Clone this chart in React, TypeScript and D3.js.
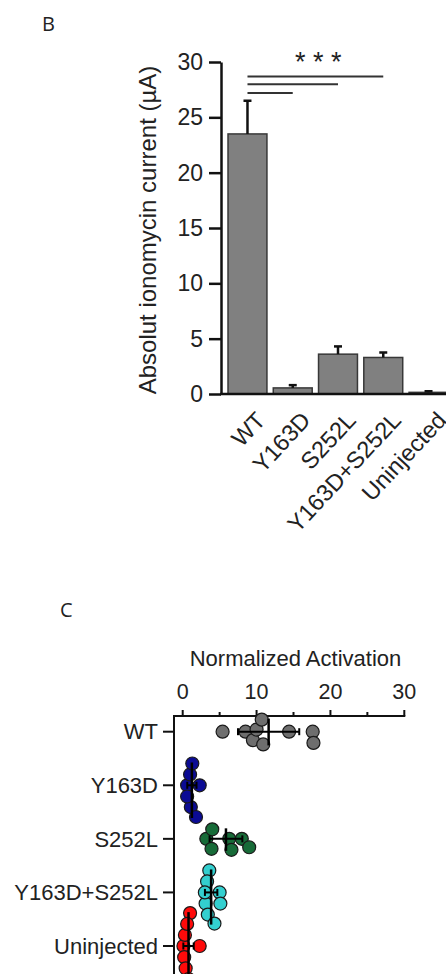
import React, { useEffect, useRef } from 'react';
import * as d3 from 'd3';

const groups = ['WT', 'Y163D', 'S252L', 'Y163D+S252L', 'Uninjected'];

// panel B: absolut ionomycin current (µA), bar = mean, whisker = error
const currentMean = [23.5, 0.55, 3.6, 3.3, 0.15];
const currentErr = [3.0, 0.25, 0.7, 0.45, 0.1];
const currentTicks = [0, 5, 10, 15, 20, 25, 30];
// WT compared against these groups, bracket height in µA
const sigTargets = ['Y163D', 'S252L', 'Y163D+S252L'];
const sigLevels = [27.2, 28.0, 28.7];

// panel C: normalized activation, one value per oocyte
const wtPts = [5.4, 8.5, 9.5, 10.0, 10.7, 10.9, 14.4, 17.6, 17.7];
const y163dPts = [0.6, 1.0, 1.3, 1.1, 2.3, 0.6, 1.8];
const s252lPts = [3.2, 3.9, 4.0, 6.3, 6.6, 8.0, 9.0];
const doublePts = [3.6, 3.3, 3.1, 3.0, 3.4, 4.3, 5.0, 5.1];
const uninjPts = [1.0, 0.1, 0.2, 0.3, 2.3, 0.4, 0.8, 1.4, 0.6];
const activationTicks = [0, 10, 20, 30];
const activationMinor = [5, 15, 25];

const dotColors = ['#6e6e6e', '#0b0b94', '#176b38', '#33cfcf', '#ff0a0a'];
const font = "'Liberation Sans', Arial, sans-serif";

// greedy beeswarm: each point goes to the free offset closest to the centre line
function swarm(xs: number[], r: number) {
  const placed: { x: number; y: number }[] = [];
  const out: { x: number; y: number }[] = new Array(xs.length);
  const order = xs.map((_, i) => i).sort((a, b) => xs[a] - xs[b]);
  for (const i of order) {
    const x = xs[i];
    const cands = [0];
    placed.forEach(p => {
      const dx = Math.abs(p.x - x);
      if (dx < 2 * r) {
        const h = Math.sqrt(4 * r * r - dx * dx);
        cands.push(p.y + h, p.y - h);
      }
    });
    cands.sort((a, b) => Math.abs(a) - Math.abs(b));
    const y = cands.find(c => placed.every(p => (p.x - x) ** 2 + (p.y - c) ** 2 >= 4 * r * r - 0.01)) ?? 0;
    placed.push({ x, y });
    out[i] = { x, y };
  }
  return out;
}

const App = () => {
  const svgRef = useRef<SVGSVGElement>(null);

  useEffect(() => {
    const svg = d3.select(svgRef.current);
    svg.selectAll('*').remove();

    // ---------- panel B ----------
    svg.append('text')
      .attr('x', 42).attr('y', 31)
      .style('font-family', "'Open Sans', sans-serif")
      .style('font-size', '20px')
      .attr('fill', '#222')
      .text('B');

    const yB = d3.scaleLinear().domain([0, 30]).range([394, 62]);
    const xB = d3.scaleBand().domain(groups).range([221, 455]).paddingInner(0.14).paddingOuter(0.155);
    const bw = xB.bandwidth();
    const cx = (g: string) => (xB(g) as number) + bw / 2;

    const gB = svg.append('g');

    gB.selectAll('.bar')
      .data(groups)
      .enter().append('rect')
      .attr('class', 'bar')
      .attr('x', d => xB(d) as number)
      .attr('y', (d, i) => yB(currentMean[i]))
      .attr('width', bw)
      .attr('height', (d, i) => yB(0) - yB(currentMean[i]))
      .attr('fill', '#808080')
      .attr('stroke', '#383838')
      .attr('stroke-width', 1.5);

    groups.forEach((g, i) => {
      const top = yB(currentMean[i] + currentErr[i]);
      gB.append('line')
        .attr('x1', cx(g)).attr('x2', cx(g))
        .attr('y1', yB(currentMean[i])).attr('y2', top)
        .attr('stroke', '#111').attr('stroke-width', 2.5);
      gB.append('line')
        .attr('x1', cx(g) - 4).attr('x2', cx(g) + 4)
        .attr('y1', top).attr('y2', top)
        .attr('stroke', '#111').attr('stroke-width', 2.5);
    });

    const axB = gB.append('g')
      .attr('transform', 'translate(221,0)')
      .call(d3.axisLeft(yB).tickValues(currentTicks).tickSize(12).tickSizeOuter(0).tickPadding(6));
    axB.select('.domain').attr('stroke', '#111').attr('stroke-width', 2.5);
    axB.selectAll('.tick line').attr('stroke', '#111').attr('stroke-width', 2.5);
    axB.selectAll('.tick text')
      .style('font-family', font).style('font-size', '23px').attr('fill', '#222');

    gB.append('line')
      .attr('x1', 220).attr('x2', 450)
      .attr('y1', yB(0)).attr('y2', yB(0))
      .attr('stroke', '#111').attr('stroke-width', 2.5);

    gB.append('text')
      .attr('transform', `translate(156,${(yB(0) + yB(30)) / 2 + 2}) rotate(-90)`)
      .attr('text-anchor', 'middle')
      .style('font-family', font).style('font-size', '24px').attr('fill', '#222')
      .text('Absolut ionomycin current (µA)');

    groups.forEach(g => {
      gB.append('text')
        .attr('transform', `translate(${cx(g) + 7},410) rotate(-47)`)
        .attr('text-anchor', 'end')
        .attr('dy', '0.71em')
        .style('font-family', font).style('font-size', '23.5px').attr('fill', '#222')
        .text(g);
    });

    sigTargets.forEach((g, i) => {
      gB.append('line')
        .attr('x1', cx('WT')).attr('x2', cx(g))
        .attr('y1', yB(sigLevels[i])).attr('y2', yB(sigLevels[i]))
        .attr('stroke', '#333').attr('stroke-width', 2);
    });
    gB.append('text')
      .attr('x', (cx('WT') + cx(sigTargets[sigTargets.length - 1])) / 2 + 3)
      .attr('y', 71)
      .attr('text-anchor', 'middle')
      .style('font-family', font).style('font-size', '27px').attr('fill', '#222')
      .text('* * *');

    // ---------- panel C ----------
    svg.append('text')
      .attr('x', 60).attr('y', 617)
      .style('font-family', "'Open Sans', sans-serif")
      .style('font-size', '20px')
      .attr('fill', '#222')
      .text('C');

    const xC = d3.scaleLinear().domain([0, 30]).range([182.7, 404.3]);
    const yC = d3.scalePoint().domain(groups).range([731.7, 946]);
    const axisY = 716;
    const axisX = 174;
    const gC = svg.append('g');

    gC.append('line')
      .attr('x1', axisX).attr('x2', xC(30) + 1)
      .attr('y1', axisY).attr('y2', axisY)
      .attr('stroke', '#111').attr('stroke-width', 2);
    gC.append('line')
      .attr('x1', axisX).attr('x2', axisX)
      .attr('y1', axisY - 1).attr('y2', 990)
      .attr('stroke', '#111').attr('stroke-width', 2);

    activationTicks.forEach(t => {
      gC.append('line')
        .attr('x1', xC(t)).attr('x2', xC(t))
        .attr('y1', axisY).attr('y2', axisY - 6)
        .attr('stroke', '#111').attr('stroke-width', 2);
      gC.append('text')
        .attr('x', xC(t)).attr('y', 699)
        .attr('text-anchor', 'middle')
        .style('font-family', font).style('font-size', '21.5px').attr('fill', '#222')
        .text(t);
    });
    activationMinor.forEach(t => {
      gC.append('line')
        .attr('x1', xC(t)).attr('x2', xC(t))
        .attr('y1', axisY).attr('y2', axisY - 4)
        .attr('stroke', '#111').attr('stroke-width', 2);
    });
    gC.append('text')
      .attr('x', (xC(0) + xC(30)) / 2 + 2).attr('y', 666)
      .attr('text-anchor', 'middle')
      .style('font-family', font).style('font-size', '22px').attr('fill', '#222')
      .text('Normalized Activation');

    groups.forEach(g => {
      const y = yC(g) as number;
      gC.append('line')
        .attr('x1', 163).attr('x2', axisX)
        .attr('y1', y).attr('y2', y)
        .attr('stroke', '#111').attr('stroke-width', 2);
      gC.append('text')
        .attr('x', 158).attr('y', y).attr('dy', '0.35em')
        .attr('text-anchor', 'end')
        .style('font-family', font).style('font-size', '22px').attr('fill', '#222')
        .text(g);
    });

    const pointSets = [wtPts, y163dPts, s252lPts, doublePts, uninjPts];
    pointSets.forEach((vals, gi) => {
      const g = groups[gi];
      const cy = yC(g) as number;
      const pos = swarm(vals.map(v => xC(v)), 5.6);

      gC.append('g')
        .selectAll('circle')
        .data(pos)
        .enter().append('circle')
        .attr('cx', d => d.x)
        .attr('cy', d => cy + d.y)
        .attr('r', 6.5)
        .attr('fill', dotColors[gi])
        .attr('stroke', '#1a1a1a')
        .attr('stroke-width', 1.2);

      const m = d3.mean(vals) as number;
      const sd = d3.deviation(vals) as number;
      const lo = Math.min(-5, (d3.min(pos, d => d.y) as number) - 1);
      const hi = Math.max(5, (d3.max(pos, d => d.y) as number) + 1);

      gC.append('line')
        .attr('x1', xC(m - sd)).attr('x2', xC(m + sd))
        .attr('y1', cy).attr('y2', cy)
        .attr('stroke', '#000').attr('stroke-width', 2);
      [m - sd, m + sd].forEach(v => {
        gC.append('line')
          .attr('x1', xC(v)).attr('x2', xC(v))
          .attr('y1', cy - 3.5).attr('y2', cy + 3.5)
          .attr('stroke', '#000').attr('stroke-width', 2);
      });
      gC.append('line')
        .attr('x1', xC(m)).attr('x2', xC(m))
        .attr('y1', cy + lo).attr('y2', cy + hi)
        .attr('stroke', '#000').attr('stroke-width', 2.5);
    });
  }, []);

  return (
    <svg
      ref={svgRef}
      width={446}
      height={974}
      style={{ position: 'absolute', left: 0, top: 0, display: 'block', background: '#fff' }}
    ></svg>
  );
};

export default App;
